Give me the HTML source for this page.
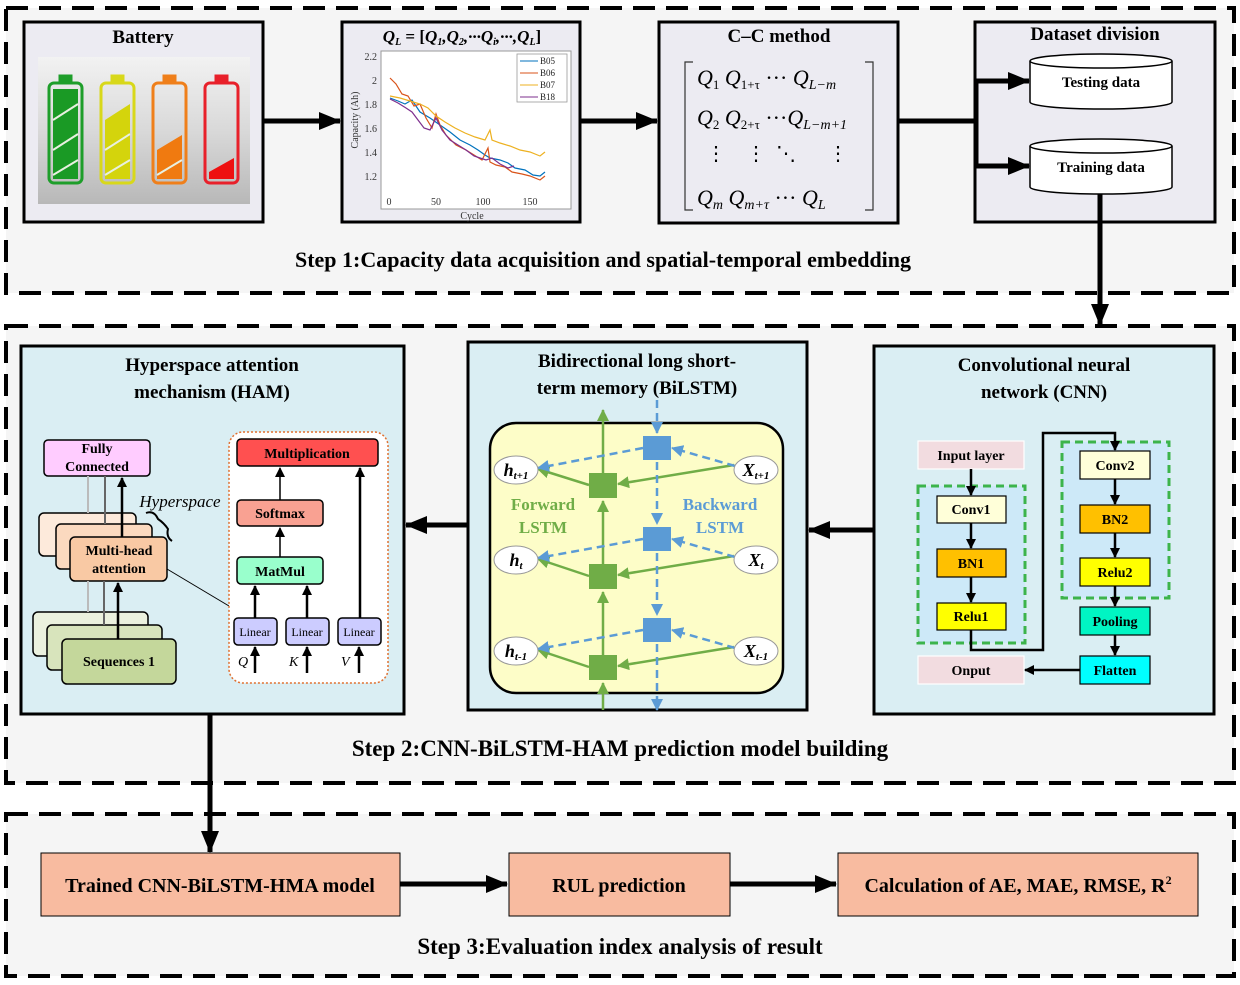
<!DOCTYPE html>
<html><head><meta charset="utf-8"><style>
body{margin:0;background:#fff}
svg{display:block;font-family:"Liberation Serif",serif}
.b{font-weight:bold}
</style></head><body>
<svg width="1240" height="985" viewBox="0 0 1240 985" xmlns="http://www.w3.org/2000/svg">
<defs>
<marker id="ah" markerWidth="10" markerHeight="10" refX="9" refY="5" orient="auto" markerUnits="userSpaceOnUse"><path d="M0,0 L10,5 L0,10z" fill="#000"/></marker>
<marker id="ahb" markerWidth="22" markerHeight="18" refX="21" refY="9" orient="auto" markerUnits="userSpaceOnUse"><path d="M0,0 L22,9 L0,18z" fill="#000"/></marker>
<marker id="ag" markerWidth="12" markerHeight="12" refX="11" refY="6" orient="auto" markerUnits="userSpaceOnUse"><path d="M0,0 L12,6 L0,12z" fill="#70ad47"/></marker>
<marker id="abl" markerWidth="12" markerHeight="12" refX="11" refY="6" orient="auto" markerUnits="userSpaceOnUse"><path d="M0,0 L12,6 L0,12z" fill="#5b9bd5"/></marker>
<linearGradient id="bg" x1="0" y1="0" x2="0" y2="1"><stop offset="0" stop-color="#f2f2f2"/><stop offset="0.5" stop-color="#d9d9d9"/><stop offset="1" stop-color="#b8b8b8"/></linearGradient>
</defs>
<rect width="1240" height="985" fill="#fff"/>
<g fill="#f5f5f5" stroke="#000" stroke-width="4" stroke-dasharray="22,11">
<rect x="6" y="8" width="1228" height="285"/>
<rect x="6" y="326" width="1228" height="457"/>
<rect x="6" y="814" width="1228" height="162"/>
</g>
<rect x="24" y="22" width="239" height="200" fill="#ecebf2" stroke="#000" stroke-width="3"/>
<text x="143" y="43" text-anchor="middle" class="b" font-size="19">Battery</text>
<rect x="38" y="57" width="212" height="147" fill="url(#bg)"/>
<g stroke-width="3" fill="none">
<g stroke="#1e9e2a"><rect x="49" y="83" width="33" height="100" rx="5"/><rect x="60" y="76" width="11" height="7" fill="#1e9e2a"/><rect x="53" y="89" width="25" height="90" fill="#1a9a25" stroke="none"/></g>
<g stroke="#d8d81a"><rect x="101" y="83" width="33" height="100" rx="5"/><rect x="112" y="76" width="11" height="7" fill="#d8d81a"/><path d="M105,120 L130,104 L130,179 L105,179z" fill="#d4d40c" stroke="none"/></g>
<g stroke="#ef7f1a"><rect x="153" y="83" width="33" height="100" rx="5"/><rect x="164" y="76" width="11" height="7" fill="#ef7f1a"/><path d="M157,150 L182,135 L182,179 L157,179z" fill="#f07a10" stroke="none"/></g>
<g stroke="#e8202a"><rect x="205" y="83" width="33" height="100" rx="5"/><rect x="216" y="76" width="11" height="7" fill="#e8202a"/><path d="M209,172 L234,158 L234,179 L209,179z" fill="#ee1010" stroke="none"/></g>
<g stroke="#e8f0e0" stroke-width="2"><path d="M53,120 L78,104 M53,150 L78,134 M53,175 L78,160 M105,150 L130,134 M105,175 L130,160 M157,175 L182,160"/></g>
</g>
<rect x="342" y="22" width="238" height="200" fill="#ecebf2" stroke="#000" stroke-width="3"/>
<text x="462" y="42" text-anchor="middle" font-size="17" font-style="italic" class="b">Q<tspan font-size="10" dy="3">L</tspan><tspan dy="-3" font-style="normal"> = [</tspan>Q<tspan font-size="10" dy="3">1</tspan><tspan dy="-3">,</tspan>Q<tspan font-size="10" dy="3">2</tspan><tspan dy="-3">,···</tspan>Q<tspan font-size="10" dy="3">i</tspan><tspan dy="-3">,···,</tspan>Q<tspan font-size="10" dy="3">L</tspan><tspan dy="-3" font-style="normal">]</tspan></text>
<rect x="381" y="51" width="190" height="158" fill="#fff" stroke="#999" stroke-width="1"/>
<g font-size="10" fill="#333" text-anchor="end">
<text x="377" y="60">2.2</text><text x="377" y="84">2</text><text x="377" y="108">1.8</text><text x="377" y="132">1.6</text><text x="377" y="156">1.4</text><text x="377" y="180">1.2</text></g>
<g font-size="10" fill="#333" text-anchor="middle">
<text x="389" y="205">0</text><text x="436" y="205">50</text><text x="483" y="205">100</text><text x="530" y="205">150</text><text x="472" y="219">Cycle</text></g>
<text x="358" y="120" font-size="10" fill="#333" transform="rotate(-90 358 120)" text-anchor="middle">Capacity (Ah)</text>
<g fill="none" stroke-width="1.2">
<polyline stroke="#0072bd" points="390,98 398,101 405,104 412,100 420,112 430,118 440,125 450,132 460,140 470,145 478,150 485,155 490,158 500,160 508,163 515,168 525,170 533,175 540,176 545,172"/>
<polyline stroke="#d95319" points="390,78 396,84 402,94 408,96 414,106 420,104 426,118 432,128 436,114 440,125 446,135 456,145 466,150 474,155 482,160 488,148 490,162 496,165 505,167 512,172 522,174 530,176 540,180 545,176"/>
<polyline stroke="#edb120" points="390,96 400,98 410,101 420,104 428,108 436,116 445,122 455,128 465,133 475,137 485,140 490,130 492,140 500,143 510,146 520,150 530,152 540,156 545,152"/>
<polyline stroke="#7e2f8e" points="390,99 398,103 406,108 412,112 418,120 424,128 430,130 436,118 442,130 450,140 458,145 466,150 474,156 480,158 486,160 492,158 500,164 508,168 514,166"/>
</g>
<rect x="517" y="54" width="50" height="48" fill="#fff" stroke="#999" stroke-width="0.8"/>
<g font-size="9" fill="#222"><line x1="520" y1="61" x2="538" y2="61" stroke="#0072bd"/><text x="540" y="64">B05</text>
<line x1="520" y1="73" x2="538" y2="73" stroke="#d95319"/><text x="540" y="76">B06</text>
<line x1="520" y1="85" x2="538" y2="85" stroke="#edb120"/><text x="540" y="88">B07</text>
<line x1="520" y1="97" x2="538" y2="97" stroke="#7e2f8e"/><text x="540" y="100">B18</text></g>

<rect x="659" y="22" width="239" height="201" fill="#ecebf2" stroke="#000" stroke-width="3"/>
<text x="779" y="42" text-anchor="middle" class="b" font-size="19">C–C method</text>
<path d="M693,62 h-8 v148 h8 M865,62 h8 v148 h-8" fill="none" stroke="#333" stroke-width="1.2"/>
<g font-size="22" font-style="italic">
<text x="697" y="85">Q<tspan font-size="13" font-style="normal" dy="4">1</tspan><tspan dy="-4"> Q</tspan><tspan font-size="13" font-style="normal" dy="4">1+τ</tspan><tspan dy="-4" font-style="normal"> ··· </tspan>Q<tspan font-size="14" dy="4">L−m</tspan></text>
<text x="697" y="125">Q<tspan font-size="13" font-style="normal" dy="4">2</tspan><tspan dy="-4"> Q</tspan><tspan font-size="13" font-style="normal" dy="4">2+τ</tspan><tspan dy="-4" font-style="normal"> ···</tspan>Q<tspan font-size="14" dy="4">L−m+1</tspan></text>
<text x="697" y="205">Q<tspan font-size="14" dy="4">m</tspan><tspan dy="-4"> Q</tspan><tspan font-size="14" dy="4">m+τ</tspan><tspan dy="-4" font-style="normal"> ··· </tspan> Q<tspan font-size="14" dy="4">L</tspan></text>
</g>
<g font-size="20"><text x="706" y="160">⋮</text><text x="746" y="160">⋮</text><text x="776" y="160">⋱</text><text x="828" y="160">⋮</text></g>

<rect x="975" y="22" width="240" height="200" fill="#ecebf2" stroke="#000" stroke-width="3"/>
<text x="1095" y="40" text-anchor="middle" class="b" font-size="19">Dataset division</text>
<g fill="#fff" stroke="#000" stroke-width="1.5">
<path d="M1030,61 v41 a71,7 0 0 0 142,0 v-41"/><ellipse cx="1101" cy="61" rx="71" ry="7"/>
<path d="M1030,146 v41 a71,7 0 0 0 142,0 v-41"/><ellipse cx="1101" cy="146" rx="71" ry="7"/>
</g>
<text x="1101" y="87" text-anchor="middle" class="b" font-size="15">Testing data</text>
<text x="1101" y="172" text-anchor="middle" class="b" font-size="15">Training data</text>
<g stroke="#000" stroke-width="5" fill="none">
<line x1="263" y1="121" x2="340" y2="121" marker-end="url(#ahb)"/>
<line x1="580" y1="121" x2="657" y2="121" marker-end="url(#ahb)"/>
<line x1="898" y1="121" x2="978" y2="121"/>
<line x1="976" y1="80" x2="976" y2="166"/>
<line x1="976" y1="81" x2="1029" y2="81" marker-end="url(#ahb)"/>
<line x1="976" y1="166" x2="1029" y2="166" marker-end="url(#ahb)"/>
<line x1="1100" y1="194" x2="1100" y2="325" marker-end="url(#ahb)"/>
</g>
<text x="603" y="267" text-anchor="middle" class="b" font-size="22">Step 1:Capacity data acquisition and spatial-temporal embedding</text>

<g fill="#daeef3" stroke="#000" stroke-width="3">
<rect x="21" y="346" width="383" height="368"/>
<rect x="468" y="342" width="339" height="368"/>
<rect x="874" y="346" width="340" height="368"/>
</g>
<text x="1044" y="371" text-anchor="middle" class="b" font-size="19">Convolutional neural</text>
<text x="1044" y="398" text-anchor="middle" class="b" font-size="19">network (CNN)</text>
<g fill="#cde9f8" stroke="#3cb44b" stroke-width="3" stroke-dasharray="8,5">
<rect x="918" y="486" width="107" height="157"/><rect x="1062" y="442" width="107" height="156"/></g>
<g stroke="#000" stroke-width="1.2">
<rect x="918" y="441" width="106" height="28" fill="#f2dce0" stroke="#fff"/>
<rect x="918" y="656" width="106" height="28" fill="#f2dce0" stroke="#fff"/>
<rect x="937" y="496" width="69" height="27" fill="#ffffd9"/>
<rect x="937" y="549" width="69" height="28" fill="#ffc000"/>
<rect x="937" y="603" width="69" height="27" fill="#ffff00"/>
<rect x="1080" y="451" width="70" height="28" fill="#ffffd9"/>
<rect x="1080" y="505" width="70" height="28" fill="#ffc000"/>
<rect x="1080" y="558" width="70" height="28" fill="#ffff00"/>
<rect x="1080" y="607" width="70" height="28" fill="#00f5c3"/>
<rect x="1080" y="656" width="70" height="28" fill="#00ffff"/>
</g>
<g class="b" font-size="14" text-anchor="middle">
<text x="971" y="460">Input layer</text><text x="971" y="675">Onput</text>
<text x="971" y="514">Conv1</text><text x="971" y="568">BN1</text><text x="971" y="621">Relu1</text>
<text x="1115" y="470">Conv2</text><text x="1115" y="524">BN2</text><text x="1115" y="577">Relu2</text>
<text x="1115" y="626">Pooling</text><text x="1115" y="675">Flatten</text></g>
<g stroke="#000" stroke-width="2.5" fill="none">
<line x1="971" y1="469" x2="971" y2="495" marker-end="url(#ah)"/>
<line x1="971" y1="523" x2="971" y2="548" marker-end="url(#ah)"/>
<line x1="971" y1="577" x2="971" y2="602" marker-end="url(#ah)"/>
<polyline points="971,630 971,650 1043,650 1043,433 1115,433 1115,450" marker-end="url(#ah)"/>
<line x1="1115" y1="479" x2="1115" y2="504" marker-end="url(#ah)"/>
<line x1="1115" y1="533" x2="1115" y2="557" marker-end="url(#ah)"/>
<line x1="1115" y1="586" x2="1115" y2="606" marker-end="url(#ah)"/>
<line x1="1115" y1="635" x2="1115" y2="655" marker-end="url(#ah)"/>
<line x1="1080" y1="670" x2="1025" y2="670" marker-end="url(#ah)"/>
</g>
<text x="637" y="367" text-anchor="middle" class="b" font-size="19">Bidirectional long short-</text>
<text x="637" y="394" text-anchor="middle" class="b" font-size="19">term memory (BiLSTM)</text>
<rect x="490" y="423" width="293" height="270" rx="26" fill="#fdfdc8" stroke="#000" stroke-width="2.5"/>
<g stroke="#70ad47" stroke-width="2.5" fill="none">
<line x1="603" y1="710" x2="603" y2="683" marker-end="url(#ag)"/>
<line x1="603" y1="655" x2="603" y2="592" marker-end="url(#ag)"/>
<line x1="603" y1="564" x2="603" y2="501" marker-end="url(#ag)"/>
<line x1="603" y1="473" x2="603" y2="410" marker-end="url(#ag)"/>
<line x1="734" y1="465" x2="618" y2="484" marker-end="url(#ag)"/>
<line x1="734" y1="556" x2="618" y2="575" marker-end="url(#ag)"/>
<line x1="734" y1="647" x2="618" y2="666" marker-end="url(#ag)"/>
<line x1="589" y1="485" x2="538" y2="469" marker-end="url(#ag)"/>
<line x1="589" y1="576" x2="538" y2="559" marker-end="url(#ag)"/>
<line x1="589" y1="667" x2="538" y2="650" marker-end="url(#ag)"/>
</g>
<g stroke="#5b9bd5" stroke-width="2.5" fill="none" stroke-dasharray="8,5">
<line x1="657" y1="400" x2="657" y2="433" marker-end="url(#abl)"/>
<line x1="657" y1="462" x2="657" y2="524" marker-end="url(#abl)"/>
<line x1="657" y1="553" x2="657" y2="615" marker-end="url(#abl)"/>
<line x1="657" y1="644" x2="657" y2="710" marker-end="url(#abl)"/>
<line x1="735" y1="466" x2="672" y2="448" marker-end="url(#abl)"/>
<line x1="735" y1="557" x2="672" y2="539" marker-end="url(#abl)"/>
<line x1="735" y1="648" x2="672" y2="630" marker-end="url(#abl)"/>
<line x1="643" y1="448" x2="538" y2="468" marker-end="url(#abl)"/>
<line x1="643" y1="539" x2="538" y2="558" marker-end="url(#abl)"/>
<line x1="643" y1="630" x2="538" y2="649" marker-end="url(#abl)"/>
</g>
<g fill="#70ad47"><rect x="589" y="473" width="28" height="25"/><rect x="589" y="564" width="28" height="25"/><rect x="589" y="655" width="28" height="25"/></g>
<g fill="#5b9bd5"><rect x="643" y="436" width="28" height="24"/><rect x="643" y="527" width="28" height="24"/><rect x="643" y="618" width="28" height="24"/></g>
<g fill="#fff" stroke="#999" stroke-width="1">
<ellipse cx="516" cy="470" rx="22" ry="14"/><ellipse cx="516" cy="560" rx="22" ry="14"/><ellipse cx="516" cy="651" rx="22" ry="14"/>
<ellipse cx="756" cy="470" rx="22" ry="14"/><ellipse cx="756" cy="560" rx="22" ry="14"/><ellipse cx="756" cy="651" rx="22" ry="14"/></g>
<g font-size="18" font-style="italic" class="b" text-anchor="middle">
<text x="516" y="476">h<tspan font-size="11" dy="3">t+1</tspan></text>
<text x="516" y="566">h<tspan font-size="11" dy="3">t</tspan></text>
<text x="516" y="657">h<tspan font-size="11" dy="3">t-1</tspan></text>
<text x="756" y="476">X<tspan font-size="11" dy="3">t+1</tspan></text>
<text x="756" y="566">X<tspan font-size="11" dy="3">t</tspan></text>
<text x="756" y="657">X<tspan font-size="11" dy="3">t-1</tspan></text></g>
<g class="b" font-size="17" text-anchor="middle">
<text x="543" y="510" fill="#70ad47">Forward</text><text x="543" y="533" fill="#70ad47">LSTM</text>
<text x="720" y="510" fill="#5b9bd5">Backward</text><text x="720" y="533" fill="#5b9bd5">LSTM</text></g>
<text x="212" y="371" text-anchor="middle" class="b" font-size="19">Hyperspace attention</text>
<text x="212" y="398" text-anchor="middle" class="b" font-size="19">mechanism (HAM)</text>
<g stroke="#000" stroke-width="1.5">
<rect x="44" y="440" width="106" height="36" rx="4" fill="#ffccff"/>
<rect x="39" y="513" width="97" height="43" rx="5" fill="#fdeadb"/>
<rect x="56" y="524" width="96" height="45" rx="5" fill="#fbd9bf"/>
<rect x="70" y="537" width="97" height="44" rx="5" fill="#f9c9a4"/>
<rect x="33" y="612" width="115" height="44" rx="5" fill="#ebf1de"/>
<rect x="47" y="625" width="115" height="45" rx="5" fill="#d8e4bc"/>
<rect x="62" y="639" width="114" height="45" rx="5" fill="#c4d79b"/>
</g>
<g stroke-width="2"><line x1="88" y1="476" x2="88" y2="513" stroke="#bbb"/><line x1="105" y1="476" x2="105" y2="524" stroke="#666"/>
<line x1="88" y1="581" x2="88" y2="612" stroke="#bbb"/><line x1="104" y1="581" x2="104" y2="625" stroke="#666"/></g>
<g stroke="#000" stroke-width="2.5"><line x1="122" y1="537" x2="122" y2="478" marker-end="url(#ah)"/><line x1="118" y1="639" x2="118" y2="583" marker-end="url(#ah)"/></g>
<g class="b" font-size="14" text-anchor="middle">
<text x="97" y="453">Fully</text><text x="97" y="471">Connected</text>
<text x="119" y="555">Multi-head</text><text x="119" y="573">attention</text>
<text x="119" y="666">Sequences 1</text></g>
<text x="180" y="507" text-anchor="middle" font-size="17" font-style="italic">Hyperspace</text>
<path d="M146,513 q8,-3 12,6 q6,4 10,10 q-2,8 4,12" fill="none" stroke="#000" stroke-width="2"/>
<line x1="167" y1="569" x2="229" y2="606" stroke="#000" stroke-width="1"/>
<rect x="229" y="432" width="159" height="251" rx="14" fill="#fff" stroke="#e07030" stroke-width="1.5" stroke-dasharray="2,2"/>
<g stroke="#000" stroke-width="1.5">
<rect x="237" y="439" width="141" height="27" rx="4" fill="#ff5050"/>
<rect x="237" y="500" width="86" height="26" rx="4" fill="#f9a192"/>
<rect x="237" y="557" width="86" height="27" rx="4" fill="#99ffcc"/>
<rect x="234" y="618" width="43" height="27" rx="4" fill="#ccccff"/>
<rect x="286" y="618" width="43" height="27" rx="4" fill="#ccccff"/>
<rect x="338" y="618" width="43" height="27" rx="4" fill="#ccccff"/>
</g>
<g class="b" font-size="14" text-anchor="middle">
<text x="307" y="458">Multiplication</text><text x="280" y="518">Softmax</text><text x="280" y="576">MatMul</text></g>
<g font-size="12" text-anchor="middle"><text x="255" y="636">Linear</text><text x="307" y="636">Linear</text><text x="359" y="636">Linear</text></g>
<g font-size="14" font-style="italic"><text x="238" y="666">Q</text><text x="289" y="666">K</text><text x="341" y="666">V</text></g>
<g stroke="#000" stroke-width="2.5">
<line x1="255" y1="673" x2="255" y2="647" marker-end="url(#ah)"/>
<line x1="307" y1="673" x2="307" y2="647" marker-end="url(#ah)"/>
<line x1="359" y1="673" x2="359" y2="647" marker-end="url(#ah)"/>
<line x1="255" y1="618" x2="255" y2="586" marker-end="url(#ah)"/>
<line x1="307" y1="618" x2="307" y2="586" marker-end="url(#ah)"/>
<line x1="360" y1="618" x2="360" y2="468" marker-end="url(#ah)"/>
</g>
<g stroke="#000" stroke-width="1.5"><line x1="280" y1="557" x2="280" y2="528" marker-end="url(#ah)"/><line x1="280" y1="500" x2="280" y2="468" marker-end="url(#ah)"/></g>
<g stroke="#000" stroke-width="5">
<line x1="874" y1="530" x2="809" y2="530" marker-end="url(#ahb)"/>
<line x1="468" y1="525" x2="406" y2="525" marker-end="url(#ahb)"/>
<line x1="210" y1="714" x2="210" y2="852" marker-end="url(#ahb)"/>
</g>
<text x="620" y="756" text-anchor="middle" class="b" font-size="23">Step 2:CNN-BiLSTM-HAM prediction model building</text>
<g fill="#f8bba0" stroke="#000" stroke-width="1">
<rect x="41" y="853" width="359" height="63"/><rect x="509" y="853" width="221" height="63"/><rect x="838" y="853" width="360" height="63"/></g>
<g class="b" font-size="20" text-anchor="middle">
<text x="220" y="892">Trained CNN-BiLSTM-HMA model</text>
<text x="619" y="892">RUL prediction</text>
<text x="1018" y="892">Calculation of AE, MAE, RMSE, R<tspan font-size="12" dy="-8">2</tspan></text></g>
<g stroke="#000" stroke-width="5">
<line x1="400" y1="884" x2="507" y2="884" marker-end="url(#ahb)"/>
<line x1="730" y1="884" x2="836" y2="884" marker-end="url(#ahb)"/></g>
<text x="620" y="954" text-anchor="middle" class="b" font-size="23">Step 3:Evaluation index analysis of result</text>
</svg>
</body></html>
